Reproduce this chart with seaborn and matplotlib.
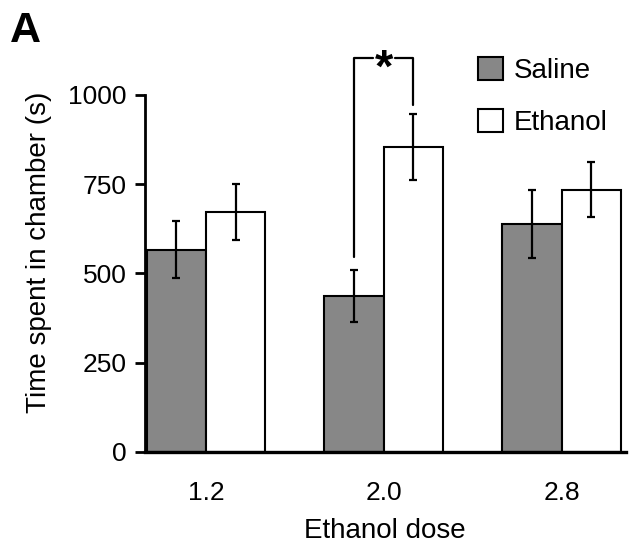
import numpy as np
import pandas as pd
import seaborn as sns
import matplotlib.pyplot as plt
from matplotlib.patches import Patch

# Data (mean +/- SEM, seconds)
doses = ['1.2', '2.0', '2.8']
groups = ['Saline', 'Ethanol']
saline_mean = [566, 437, 638]
saline_sem = [80, 72, 95]
ethanol_mean = [673, 855, 735]
ethanol_sem = [78, 92, 76]

colors = {'Saline': '#878787', 'Ethanol': '#ffffff'}

df = pd.DataFrame({
    'dose': doses * 2,
    'group': ['Saline'] * 3 + ['Ethanol'] * 3,
    'time': saline_mean + ethanol_mean,
})
sems = {'Saline': saline_sem, 'Ethanol': ethanol_sem}
means = {'Saline': saline_mean, 'Ethanol': ethanol_mean}

sns.set_style('ticks')
plt.rcParams['font.family'] = ['Liberation Sans', 'DejaVu Sans']
for k in ['text.color', 'axes.labelcolor', 'xtick.color', 'ytick.color',
          'axes.edgecolor']:
    plt.rcParams[k] = 'black'

fig = plt.figure(figsize=(6.3, 5.43), dpi=100)
ax = fig.add_axes([0.230, 0.1676, 0.763, 0.7366])

sns.barplot(data=df, x='dose', y='time', hue='group', order=doses,
            hue_order=groups, palette=colors, width=0.667,
            edgecolor='black', linewidth=1.5, errorbar=None,
            legend=False, ax=ax)

# error bars at the bar centres
centers = {}
for g, cont in zip(groups, ax.containers):
    xs = [p.get_x() + p.get_width() / 2 for p in cont.patches]
    centers[g] = xs
    ax.errorbar(xs, means[g], yerr=sems[g], fmt='none', ecolor='black',
                elinewidth=1.6, capsize=3, capthick=1.6, zorder=5)

# significance bracket at 2.0
xl = centers['Saline'][1]
xr = centers['Ethanol'][1]
xm = (xl + xr) / 2
y_top = 1103
gap = 0.063
kw = dict(color='black', lw=1.6, clip_on=False)
ax.plot([xl, xl, xm - gap], [547, y_top, y_top], **kw)
ax.plot([xm + gap, xr, xr], [y_top, y_top, 972], **kw)
ax.text(xm, y_top - 32, '*', ha='center', va='center', fontsize=34,
        fontweight='bold')

ax.set_ylim(0, 1120)
ax.set_xlim(-0.343, 2.36)
ax.set_yticks([0, 250, 500, 750, 1000])
ax.spines['left'].set_bounds(0, 1000)
ax.spines['left'].set_linewidth(2)
ax.spines['bottom'].set_linewidth(2.4)
sns.despine(ax=ax)
ax.tick_params(axis='y', length=7, width=2, labelsize=19, pad=6)
ax.tick_params(axis='x', length=0, labelsize=19, pad=21)

ax.set_xlabel('Ethanol dose', fontsize=20, labelpad=9)
ax.set_ylabel('Time spent in chamber (s)', fontsize=20, labelpad=12)

handles = [Patch(facecolor=colors[g], edgecolor='black', linewidth=1.5)
           for g in groups]
ax.legend(handles, groups, frameon=False, fontsize=20,
          loc='upper left', bbox_to_anchor=(0.67, 1.015),
          handlelength=0.9, handleheight=0.9, handletextpad=0.4,
          labelspacing=0.9, borderaxespad=0)

fig.text(0.016, 0.98, 'A', fontsize=31, fontweight='bold', va='top')

fig.savefig('out.png', dpi=100)
